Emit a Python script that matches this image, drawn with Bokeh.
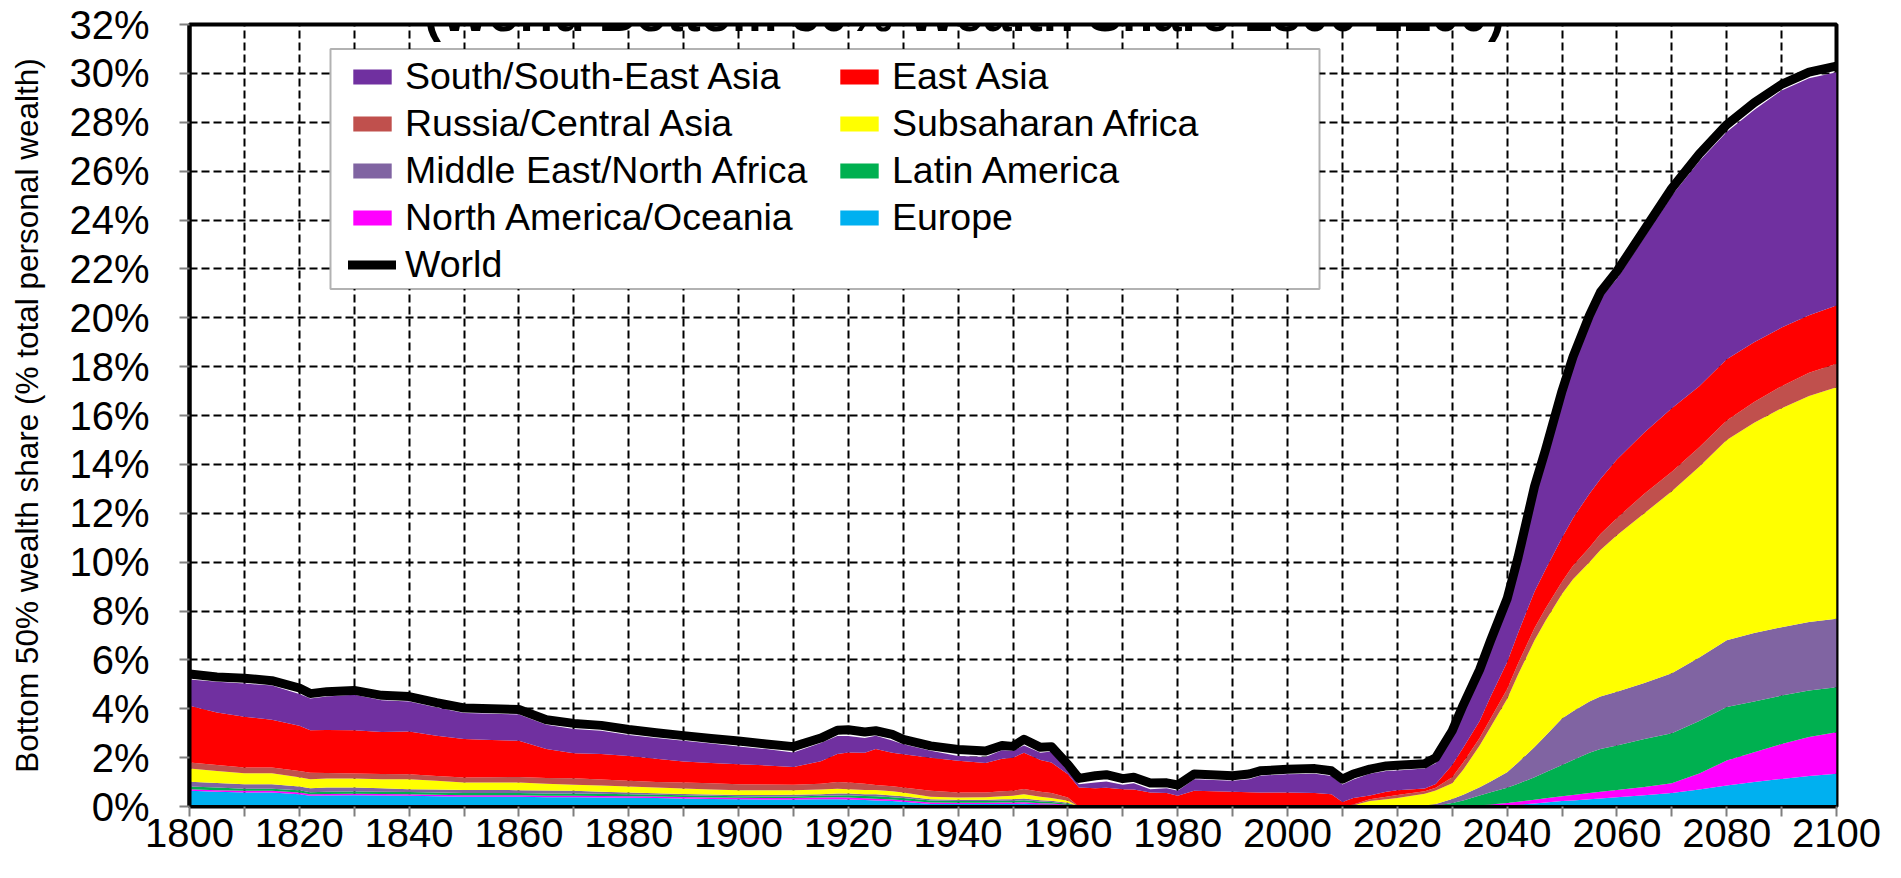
from bokeh.plotting import figure
from bokeh.models import (ColumnDataSource, Legend, LegendItem, FixedTicker,
                          PrintfTickFormatter, Range1d, Label, BoxAnnotation)
from bokeh.embed import file_html
from bokeh.resources import INLINE

FONT = "Liberation Sans"

years = [1800, 1805, 1810, 1815, 1820, 1822, 1825, 1830, 1835, 1840, 1845, 1850, 1855, 1860,
         1865, 1870, 1875, 1880, 1885, 1890, 1895, 1900, 1905, 1910,
         1915, 1918, 1920, 1923, 1925, 1928, 1930, 1935, 1940, 1945, 1948, 1950, 1952, 1955, 1957, 1960,
         1962, 1965, 1967, 1970, 1972, 1975, 1978, 1980, 1983, 1990, 1993, 1995, 2000, 2005, 2008, 2010,
         2012, 2015, 2018, 2020, 2025, 2027,
         2030, 2032, 2035, 2037, 2040, 2042, 2045, 2047, 2050, 2052, 2055, 2057, 2060,
         2065, 2070, 2075, 2080, 2085, 2090, 2095, 2100]

europe = [.64, .60, .57, .57, .50, .44, .45, .46, .45, .44, .42, .40, .40, .40,
          .38, .38, .37, .36, .35, .33, .31, .30, .29, .29,
          .30, .30, .29, .27, .25, .22, .19, .10, .10, .10, .10, .10, .11, .08, .08, .04,
          0, 0, 0, 0, 0, 0, 0, 0, 0, 0, 0, 0, 0, 0, 0, 0,
          0, 0, 0, 0, 0, 0,
          0, 0, .02, .03, .04, .07, .12, .16, .22, .25, .30, .33, .38,
          .46, .55, .70, .86, 1.00, 1.13, 1.25, 1.34]

north_america = [.07, .07, .07, .07, .07, .06, .06, .06, .06, .06, .06, .06, .06, .06,
                 .06, .06, .06, .06, .06, .06, .06, .06, .06, .06,
                 .07, .08, .08, .07, .07, .07, .07, .06, .05, .05, .06, .06, .06, .05, .04, .03,
                 0, 0, 0, 0, 0, 0, 0, 0, 0, 0, 0, 0, 0, 0, 0, 0,
                 0, 0, 0, 0, 0, 0,
                 0, .01, .03, .05, .10, .12, .16, .18, .20, .22, .25, .27, .30,
                 .34, .40, .65, 1.02, 1.22, 1.43, 1.59, 1.70]

latin_america = [.11, .11, .09, .09, .09, .08, .09, .09, .09, .09, .09, .09, .09, .09,
                 .09, .09, .09, .08, .07, .07, .07, .06, .06, .06,
                 .07, .07, .09, .09, .10, .09, .09, .09, .07, .07, .08, .07, .09, .07, .06, .04,
                 0, 0, 0, 0, 0, 0, 0, 0, 0, 0, 0, 0, 0, 0, 0, 0,
                 0, 0, 0, 0, 0, .03,
                 .14, .24, .40, .50, .63, .74, .92, 1.06, 1.28, 1.43, 1.65, 1.75, 1.82,
                 1.96, 2.05, 2.15, 2.19, 2.08, 1.98, 1.91, 1.84]

mena = [.19, .18, .18, .18, .16, .17, .18, .17, .15, .12, .13, .13, .13, .12,
        .12, .11, .08, .07, .06, .05, .05, .05, .06, .07,
        .06, .08, .07, .07, .08, .07, .07, .05, .06, .06, .06, .07, .07, .06, .06, .04,
        0, 0, 0, 0, 0, 0, 0, 0, 0, 0, 0, 0, 0, 0, 0, 0,
        0, 0, 0, 0, .04, .07,
        .17, .23, .34, .44, .63, .87, 1.23, 1.50, 1.90, 2.00, 2.10, 2.15, 2.20,
        2.29, 2.45, 2.60, 2.73, 2.80, 2.80, 2.80, 2.80]

subsaharan = [.55, .49, .45, .45, .38, .37, .37, .37, .37, .41, .35, .30, .30, .31,
              .28, .25, .26, .25, .24, .23, .21, .20, .20, .19,
              .20, .20, .18, .18, .18, .17, .15, .10, .09, .10, .12, .14, .17, .14, .11, .09,
              0, 0, 0, 0, 0, 0, 0, 0, 0, 0, 0, 0, 0, 0, 0, 0,
              .05, .22, .30, .35, .48, .55,
              .64, 1.02, 1.71, 2.23, 3.00, 3.60, 4.37, 4.70, 5.10, 5.40, 5.70, 6.00, 6.40,
              6.95, 7.45, 7.80, 8.20, 8.60, 8.96, 9.25, 9.48]

russia = [.24, .25, .24, .24, .25, .26, .22, .20, .21, .20, .20, .21, .22, .23,
          .24, .27, .24, .23, .22, .24, .25, .24, .23, .22,
          .23, .27, .27, .25, .20, .21, .21, .24, .20, .19, .20, .20, .22, .20, .20, .13,
          0, 0, 0, 0, 0, 0, 0, 0, 0, 0, 0, 0, 0, 0, 0, 0,
          .03, .08, .10, .12, .10, .12,
          .25, .30, .30, .35, .40, .45, .50, .50, .50, .55, .60, .65, .70,
          .80, .80, .80, .80, .85, .90, .95, .96]

east_asia = [2.32, 2.15, 2.07, 1.95, 1.85, 1.74, 1.76, 1.77, 1.72, 1.75, 1.65, 1.57, 1.52, 1.48,
             1.18, 1.02, 1.05, 1.02, .95, .86, .83, .82, .78, .73,
             .92, 1.15, 1.23, 1.27, 1.47, 1.37, 1.36, 1.36, 1.30, 1.21, 1.33, 1.36, 1.48, 1.30, 1.25, .95,
             .78, .75, .77, .71, .70, .57, .55, .44, .64, .60, .58, .57, .57, .55, .50, .18,
             .27, .15, .20, .20, .12, .15,
             .50, .60, .70, .90, 1.10, 1.25, 1.50, 1.60, 1.80, 1.95, 2.20, 2.25, 2.40,
             2.50, 2.60, 2.50, 2.50, 2.45, 2.40, 2.35, 2.38]

south_asia = [1.08, 1.25, 1.36, 1.40, 1.30, 1.30, 1.37, 1.45, 1.30, 1.23, 1.15, 1.07, 1.08, 1.07,
              1.00, .99, .95, .86, .85, .85, .80, .73, .67, .59,
              .75, .73, .68, .60, .55, .50, .41, .28, .20, .25, .35, .28, .30, .30, .45, .13,
              .13, .23, .25, .18, .25, .14, .20, .20, .48, .45, .54, .69, .75, .79, .75, .72,
              .75, .89, .85, .80, .82, .85,
              1.25, 1.55, 1.90, 2.10, 2.40, 2.80, 4.10, 4.70, 5.70, 6.30, 7.00, 7.40, 7.40,
              8.00, 8.70, 9.20, 9.30, 9.50, 9.70, 9.70, 9.55]

world = [5.42, 5.30, 5.25, 5.15, 4.85, 4.62, 4.70, 4.75, 4.55, 4.50, 4.25, 4.03, 4.00, 3.97,
         3.55, 3.40, 3.32, 3.15, 3.02, 2.90, 2.78, 2.68, 2.56, 2.45,
         2.80, 3.12, 3.14, 3.05, 3.10, 2.95, 2.75, 2.48, 2.33, 2.27, 2.50, 2.46, 2.75, 2.42, 2.45, 1.72,
         1.15, 1.26, 1.30, 1.14, 1.20, 0.96, 0.97, 0.88, 1.33, 1.26, 1.33, 1.46, 1.52, 1.55, 1.46, 1.12,
         1.33, 1.53, 1.66, 1.69, 1.75, 2.00,
         3.10, 4.15, 5.60, 6.80, 8.50, 10.20, 13.10, 14.60, 17.00, 18.40, 20.10, 21.05, 21.90,
         23.60, 25.30, 26.70, 27.90, 28.80, 29.55, 30.05, 30.30]

series_keys = ["europe", "north_america", "latin_america", "mena",
               "subsaharan", "russia", "east_asia", "south_asia"]
series_names = ["Europe", "North America/Oceania", "Latin America", "Middle East/North Africa",
                "Subsaharan Africa", "Russia/Central Asia", "East Asia", "South/South-East Asia"]
series_colors = ["#00B0F0", "#FF00FF", "#00B050", "#8064A2",
                 "#FFFF00", "#C0504D", "#FF0000", "#7030A0"]

x_ticks = list(range(1800, 2101, 20))
x_minor = list(range(1810, 2100, 20))
y_ticks = list(range(0, 33, 2))

source = ColumnDataSource(dict(year=years, europe=europe, north_america=north_america,
                               latin_america=latin_america, mena=mena, subsaharan=subsaharan,
                               russia=russia, east_asia=east_asia, south_asia=south_asia,
                               world=world))

p = figure(width=1901, height=878, x_range=Range1d(1800, 2100), y_range=Range1d(0, 32),
           output_backend="svg", toolbar_location=None,
           min_border_left=189, min_border_right=65, min_border_top=24, min_border_bottom=72)
p.title = None
p.background_fill_color = "white"
p.border_fill_color = "white"
p.outline_line_color = "black"
p.outline_line_width = 4

areas = p.varea_stack(stackers=series_keys, x="year", color=series_colors, source=source)
world_r = p.line("year", "world", source=source, line_color="black", line_width=9,
                 line_cap="round", line_join="round")

# axes
p.xaxis.ticker = FixedTicker(ticks=x_ticks, minor_ticks=x_minor)
p.yaxis.ticker = FixedTicker(ticks=y_ticks)
p.yaxis.formatter = PrintfTickFormatter(format="%d%%")
for ax in (p.xaxis, p.yaxis):
    ax.major_tick_out = 10
    ax.major_tick_in = 0
    ax.minor_tick_out = 10
    ax.minor_tick_in = 0
    ax.major_tick_line_color = "#7f7f7f"
    ax.minor_tick_line_color = "#7f7f7f"
    ax.major_tick_line_width = 2
    ax.minor_tick_line_width = 2
    ax.axis_line_color = "black"
    ax.major_label_text_font = FONT
    ax.major_label_text_font_size = "40px"
    ax.major_label_text_color = "black"
p.xaxis.axis_line_width = 3
p.yaxis.axis_line_width = 4
p.xaxis.major_label_standoff = 2
p.yaxis.major_label_standoff = 30
p.yaxis.axis_label = "Bottom 50% wealth share (% total personal wealth)"
p.yaxis.axis_label_text_font = FONT
p.yaxis.axis_label_text_font_size = "31.5px"
p.yaxis.axis_label_text_font_style = "normal"
p.yaxis.axis_label_text_color = "black"
p.yaxis.axis_label_standoff = 21

# grid
for g in (p.xgrid, p.ygrid):
    g.grid_line_color = "black"
    g.grid_line_dash = "8 4"
    g.grid_line_width = 2
p.xgrid.minor_grid_line_color = "black"
p.xgrid.minor_grid_line_dash = "8 4"
p.xgrid.minor_grid_line_width = 2

# title (its upper part lies above the page, as in the reference)
p.add_layout(Label(x=775, y=793, x_units="screen", y_units="screen",
                   text="(World Bottom 50% Wealth Share 1800-2100)", text_font=FONT,
                   text_font_style="bold", text_font_size="51px", text_align="center",
                   text_baseline="alphabetic", text_color="black"))

# legend frame
p.add_layout(BoxAnnotation(left=141, right=1130, top=757.5, bottom=517.5,
                           left_units="screen", right_units="screen",
                           top_units="screen", bottom_units="screen",
                           fill_color="white", fill_alpha=1.0,
                           line_color="black", line_width=2))

by_key = dict(zip(series_keys, areas))
legend_order = [("South/South-East Asia", by_key["south_asia"]),
                ("Russia/Central Asia", by_key["russia"]),
                ("Middle East/North Africa", by_key["mena"]),
                ("North America/Oceania", by_key["north_america"]),
                ("World", world_r),
                ("East Asia", by_key["east_asia"]),
                ("Subsaharan Africa", by_key["subsaharan"]),
                ("Latin America", by_key["latin_america"]),
                ("Europe", by_key["europe"])]
legend = Legend(items=[LegendItem(label=n, renderers=[r]) for n, r in legend_order],
                location=(159, 520), orientation="vertical", nrows=5,
                label_text_font=FONT, label_text_font_size="37.5px", label_text_color="black",
                glyph_width=48, glyph_height=19, label_standoff=9, label_width=426,
                label_height=41, spacing=4, padding=0, margin=0,
                border_line_alpha=0, background_fill_alpha=0)
p.add_layout(legend)

open("out.html", "w").write(file_html(p, INLINE))
